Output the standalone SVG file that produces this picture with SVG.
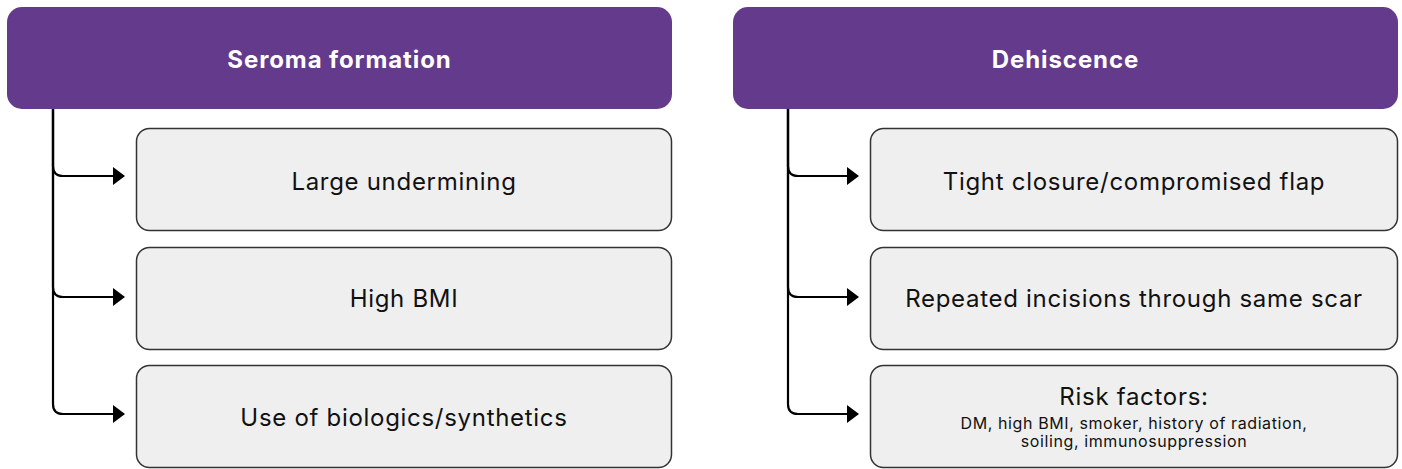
<svg xmlns="http://www.w3.org/2000/svg" width="1402" height="469" viewBox="0 0 1402 469">
<style>
.hdr{fill:#643a8c}
.hdrt{fill:#ffffff;font-family:Inter,"Liberation Sans",sans-serif;font-weight:700;font-size:24px;letter-spacing:0.9px;text-anchor:middle;dominant-baseline:central}
.box{fill:#efefef;stroke:#333333;stroke-width:1.5}
.t{fill:#111111;font-family:Inter,"Liberation Sans",sans-serif;font-size:24px;letter-spacing:0.7px;text-anchor:middle;dominant-baseline:central}
.s{fill:#111111;font-family:Inter,"Liberation Sans",sans-serif;font-size:16px;letter-spacing:0.6px;text-anchor:middle;dominant-baseline:central}
.c{fill:none;stroke:#000;stroke-width:2.2;marker-end:url(#ah)}
</style>
<defs>
<marker id="ah" markerWidth="12" markerHeight="18" refX="11" refY="9" orient="auto" markerUnits="userSpaceOnUse">
<path d="M0,0 L12,9 L0,18 Z" fill="#000"/>
</marker>
</defs>
<g id="connectors">
<path class="c" d="M53,109 V166 Q53,176 63,176 H124"/>
<path class="c" d="M53,109 V287 Q53,297 63,297 H124"/>
<path class="c" d="M53,109 V404 Q53,414 63,414 H124"/>
<path class="c" d="M788,109 V166 Q788,176 798,176 H858"/>
<path class="c" d="M788,109 V287 Q788,297 798,297 H858"/>
<path class="c" d="M788,109 V404 Q788,414 798,414 H858"/>
</g>
<g id="seroma">
<rect class="hdr" x="7" y="7" width="665" height="102" rx="15"/>
<text class="hdrt" x="339.5" y="59">Seroma formation</text>
</g>
<g id="large-undermining">
<rect class="box" x="136.5" y="128.5" width="535" height="102" rx="13"/>
<text class="t" x="404" y="181">Large undermining</text>
</g>
<g id="high-bmi">
<rect class="box" x="136.5" y="247.5" width="535" height="102" rx="13"/>
<text class="t" x="404" y="298">High BMI</text>
</g>
<g id="biologics">
<rect class="box" x="136.5" y="365.5" width="535" height="102" rx="13"/>
<text class="t" x="404" y="417">Use of biologics/synthetics</text>
</g>
<g id="dehiscence">
<rect class="hdr" x="733" y="7" width="665" height="102" rx="15"/>
<text class="hdrt" x="1065.5" y="59">Dehiscence</text>
</g>
<g id="tight-closure">
<rect class="box" x="870.5" y="128.5" width="527" height="102" rx="13"/>
<text class="t" x="1134" y="181">Tight closure/compromised flap</text>
</g>
<g id="repeated-incisions">
<rect class="box" x="870.5" y="247.5" width="527" height="102" rx="13"/>
<text class="t" x="1134" y="298">Repeated incisions through same scar</text>
</g>
<g id="risk-factors">
<rect class="box" x="870.5" y="365.5" width="527" height="102" rx="13"/>
<text class="t" x="1134" y="396">Risk factors:</text>
<text class="s" x="1134" y="423">DM, high BMI, smoker, history of radiation,</text>
<text class="s" x="1134" y="441">soiling, immunosuppression</text>
</g>
</svg>
